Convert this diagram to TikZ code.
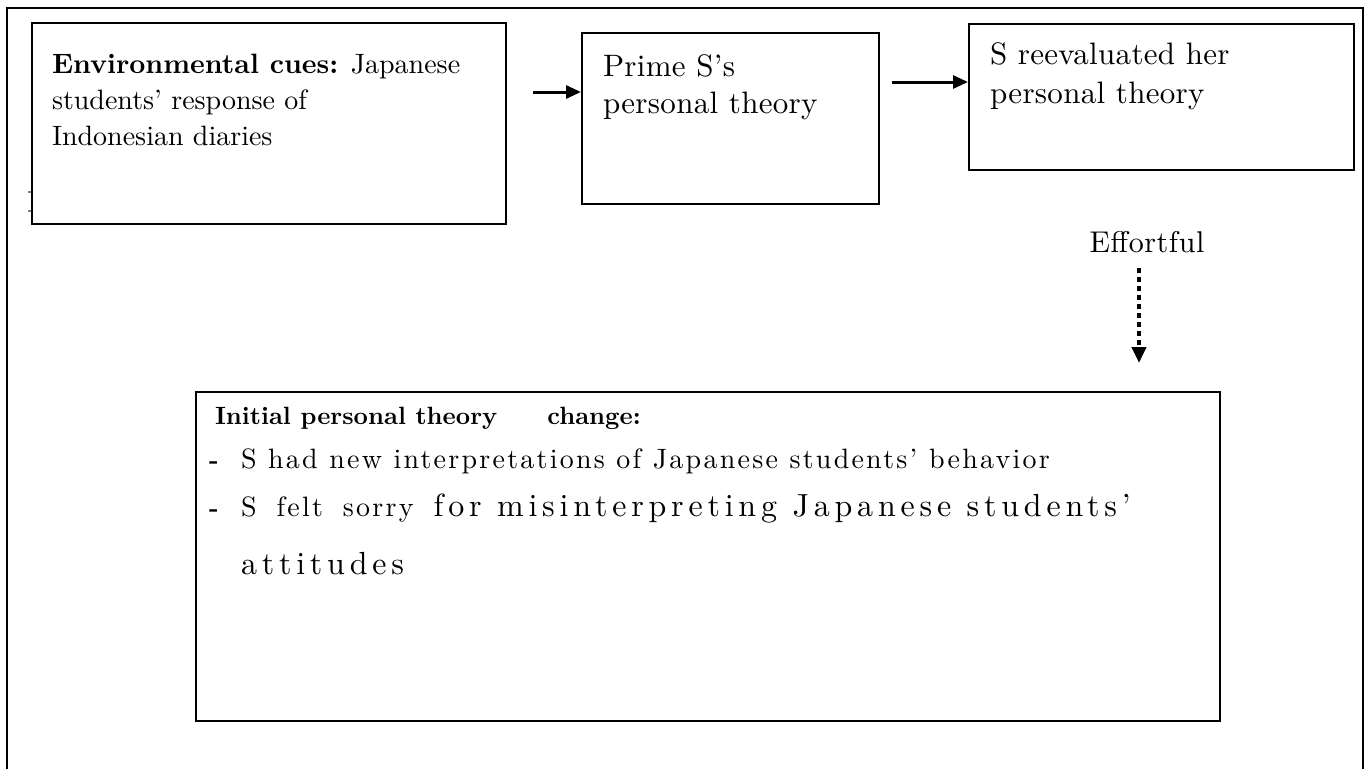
\documentclass[tikz,border=0pt]{standalone}
\usepackage{fontspec}
\setmainfont{lmroman10-regular.otf}[BoldFont=lmroman10-bold.otf]
\usetikzlibrary{arrows.meta, positioning}

\newcommand{\boxbody}[3]{\parbox[c][#2][t]{#1}{\raggedright #3}}
\newcommand{\tracked}[1]{\addfontfeatures{LetterSpace=#1}}

\begin{document}
\begin{tikzpicture}[x=1pt, y=-1pt,
  box/.style={rectangle, draw, line width=2pt, anchor=north west, inner xsep=20pt},
  arrow/.style={-{Triangle[length=15pt, width=13pt]}, line width=3pt},
  dotarrow/.style={-{Triangle[length=16pt, width=14pt]}, line width=4pt, dash pattern=on 4.5pt off 4.5pt}
]
\useasboundingbox (0,0) rectangle (1370,769);

% Frame
\draw[line width=2pt] (7,769) -- (7,8) -- (1363,8) -- (1363,769);
\draw[gray, line width=1.2pt] (28,192) -- (31,192) (28,211) -- (31,211);

% Cues
\node[box, inner ysep=31pt] (cues) at (31,22) {\boxbody{434pt}{139pt}{\fontsize{28}{36}\selectfont
  \textbf{Environmental cues:} Japanese\\students' response of\\Indonesian diaries}};

% Priming
\node[box, inner xsep=21pt, inner ysep=21.5pt] (prime) at (581,32) {\boxbody{255pt}{128pt}{\fontsize{31}{37}\selectfont\tracked{1}
  Prime S's\\personal theory}};

% Reevaluation
\node[box, inner xsep=21pt, inner ysep=18.5pt] (reeval) at (968,23) {\boxbody{343pt}{109pt}{\fontsize{31}{39}\selectfont\tracked{1}
  S reevaluated her\\personal theory}};

% Effort label
\node[font=\fontsize{30}{36}\selectfont\tracked{2}] (effort) at (1147,242) {Effortful};
\coordinate (dotend) at (1139,363);

% Change
\node[box, inner xsep=19pt, inner ysep=15.5pt] (change) at (195,391) {\boxbody{986pt}{298pt}{\fontsize{25}{44}\selectfont
  \textbf{Initial personal theory\hspace{50pt}change:}\\
  \hspace*{-6pt}\makebox[32pt][l]{\textbf{-}}{\fontsize{28}{44}\selectfont\tracked{8}S had new interpretations of Japanese students' behavior}\\[4pt]
  \hspace*{-6pt}\makebox[32pt][l]{\textbf{-}}{\fontsize{28}{44}\selectfont\tracked{8}S\hspace{20pt}felt\hspace{20pt}sorry}\hspace{20pt}{\fontsize{32}{44}\selectfont\tracked{15}for misinterpreting Japanese students'}\\[14pt]
  \hspace*{26pt}{\fontsize{32}{44}\selectfont\tracked{15}attitudes}}};

% Arrows
\draw[arrow] ([xshift=26pt, yshift=-70pt]cues.north east) -- ([yshift=-60pt]prime.north west);
\draw[arrow] ([xshift=12pt, yshift=-50pt]prime.north east) -- ([yshift=-59pt]reeval.north west);
\draw[dotarrow] ([xshift=-8pt, yshift=-12pt]effort.south) -- (dotend);

\end{tikzpicture}
\end{document}
